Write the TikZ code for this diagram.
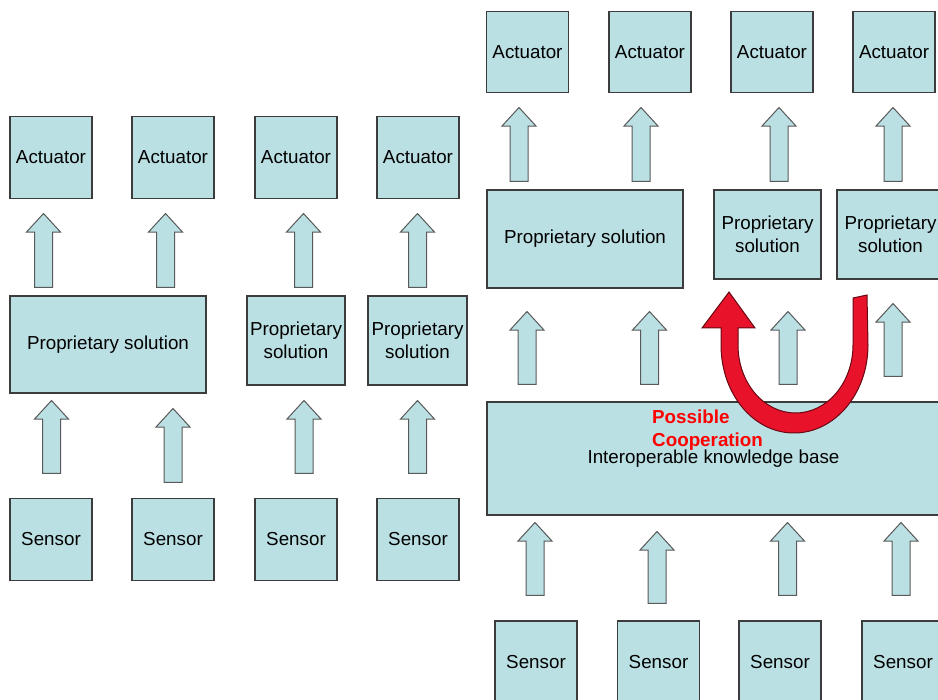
\documentclass[tikz,border=0pt]{standalone}
\usepackage{fontspec}
\setmainfont{Liberation Sans}
\usetikzlibrary{shapes.arrows}

\definecolor{boxfill}{RGB}{187,224,227}
\definecolor{boxline}{RGB}{60,60,60}
\definecolor{coopred}{RGB}{232,18,42}

\begin{document}
\begin{tikzpicture}[x=1pt,y=-1pt,
	box/.style={draw=boxline, fill=boxfill, line width=1.2pt, inner sep=0pt, align=center, font=\fontsize{18.8}{22.7}\selectfont},
	unitbox/.style={box, minimum width=82pt, minimum height=82pt},
	liftarrow/.style={single arrow, shape border rotate=90, anchor=tail, draw=boxline!85, fill=boxfill, line width=1pt, inner sep=8.5pt, minimum width=33pt, single arrow head extend=8pt, single arrow tip angle=85, single arrow head indent=0pt, minimum height=74pt}]
	
	\useasboundingbox (0,0) rectangle (938,700);
	\clip (0,0) rectangle (938,700);
	
	%Links: Knoten
	\node (la1) [unitbox] at (51,157.5) {Actuator};
	\node (la2) [unitbox] at (173,157.5) {Actuator};
	\node (la3) [unitbox] at (296,157.5) {Actuator};
	\node (la4) [unitbox] at (418,157.5) {Actuator};
	
	\node (lp1) [box, minimum width=196pt, minimum height=97pt] at (108,344.5) {Proprietary solution};
	\node (lp2) [box, minimum width=98pt, minimum height=89pt] at (296,340.5) {Proprietary\\solution};
	\node (lp3) [box, minimum width=99pt, minimum height=89pt] at (417.5,340.5) {Proprietary\\solution};
	
	\node (ls1) [unitbox] at (51,539.5) {Sensor};
	\node (ls2) [unitbox] at (173,539.5) {Sensor};
	\node (ls3) [unitbox] at (296,539.5) {Sensor};
	\node (ls4) [unitbox] at (418,539.5) {Sensor};
	
	%Links: Pfeile
	\node (lu1) [liftarrow] at (43.5,288) {};
	\node (lu2) [liftarrow] at (165.5,288) {};
	\node (lu3) [liftarrow] at (303.5,288) {};
	\node (lu4) [liftarrow] at (417.5,288) {};
	\node (ld1) [liftarrow, minimum height=73pt] at (51.5,474) {};
	\node (ld2) [liftarrow] at (173,483) {};
	\node (ld3) [liftarrow, minimum height=73pt] at (304,474) {};
	\node (ld4) [liftarrow, minimum height=73pt] at (417.5,474) {};
	
	%Rechts: Knoten
	\node (ra1) [unitbox, minimum height=81pt] at (527.5,52) {Actuator};
	\node (ra2) [unitbox, minimum height=81pt] at (650,52) {Actuator};
	\node (ra3) [unitbox, minimum height=81pt] at (772,52) {Actuator};
	\node (ra4) [unitbox, minimum height=81pt] at (894,52) {Actuator};
	
	\node (rp1) [box, minimum width=196pt, minimum height=98pt] at (585,239) {Proprietary solution};
	\node (rp2) [box, minimum width=107pt, minimum height=89pt] at (767.5,234.5) {Proprietary\\solution};
	\node (rp3) [box, minimum width=107pt, minimum height=89pt] at (890.5,234.5) {Proprietary\\solution};
	
	\node (kb) [box, minimum width=453pt, minimum height=113pt] at (713.5,458.5) {Interoperable knowledge base};
	
	\node (rs1) [unitbox] at (536,662) {Sensor};
	\node (rs2) [unitbox] at (658.5,662) {Sensor};
	\node (rs3) [unitbox] at (780,662) {Sensor};
	\node (rs4) [unitbox] at (903,662) {Sensor};
	
	%Rechts: Pfeile
	\node (ru1) [liftarrow] at (519,182) {};
	\node (ru2) [liftarrow] at (641,182) {};
	\node (ru3) [liftarrow] at (779,182) {};
	\node (ru4) [liftarrow] at (893,182) {};
	\node (rm1) [liftarrow, minimum height=73pt] at (527,385) {};
	\node (rm2) [liftarrow, minimum height=73pt] at (649.5,385) {};
	\node (rm3) [liftarrow, minimum height=73pt] at (788,385) {};
	\node (rm4) [liftarrow, minimum height=73pt] at (893,377) {};
	\node (rd1) [liftarrow, minimum height=73pt] at (535,596) {};
	\node (rd2) [liftarrow, minimum height=72pt] at (657,604) {};
	\node (rd3) [liftarrow, minimum height=73pt] at (787.5,596) {};
	\node (rd4) [liftarrow, minimum height=73pt] at (901,596) {};
	
	%Kooperation
	\draw[fill=coopred, draw=coopred!45!black, line width=1pt]
	(853,298) -- (867,295) -- (868,345)
	.. controls (868,393.6) and (834.9,433) .. (794,433)
	.. controls (753.1,433) and (721,393.6) .. (721,345)
	-- (721,328) -- (702,328) -- (729,292) -- (755,328) -- (738,328) -- (738,345)
	.. controls (738,382.6) and (763.7,413) .. (795.5,413)
	.. controls (827.3,413) and (853,382.6) .. (853,345) -- cycle;
	\node (coop) [anchor=west, align=left, text=red, inner sep=0pt, font=\fontsize{18.8}{22.7}\selectfont\bfseries] at (652,430) {Possible\\Cooperation};
	
\end{tikzpicture}
\end{document}
